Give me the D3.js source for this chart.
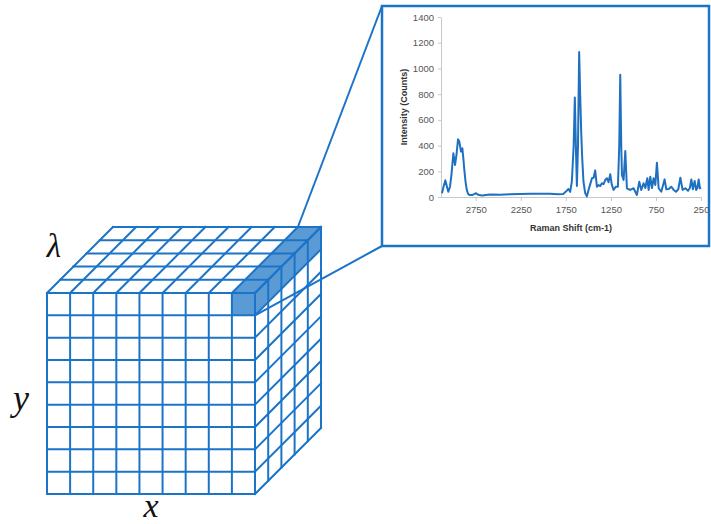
<!DOCTYPE html>
<html><head><meta charset="utf-8">
<script src="https://cdn.jsdelivr.net/npm/d3@7"></script>
<style>html,body{margin:0;padding:0;background:#fff}svg{display:block}</style>
</head><body>
<svg id="fig" width="711" height="524"></svg>
<script>
// Raman spectrum of the selected pixel (shift in cm-1, intensity in counts)
const ramanShift = [3124,3107,3087,3071,3054,3035,3018,2998,2979,2963,2946,2932,2913,2898,2887,2876,2863,2849,2835,2821,
  2791,2768,2746,2724,2680,2591,2479,2368,2257,2146,2035,1924,1835,1779,1752,1721,1702,1683,1663,1650,
  1637,1627,1615,1602,1591,1579,1568,1554,1535,1516,1498,1479,1460,1442,1424,1405,1387,1368,1350,1331,
  1313,1294,1276,1257,1239,1220,1196,1172,1157,1146,1135,1127,1109,1090,1072,1052,1035,998,979,961,
  935,913,887,868,846,831,813,794,776,757,739,720,691,654,635,609,579,553,527,502,
  479,454,424,394,374,357,340,320,304,290,276,262,250];
const intensity = [29,80,130,85,41,80,180,340,249,330,449,431,353,379,300,210,120,55,25,16,
  15,22,29,18,12,20,18,22,24,25,26,25,22,24,40,62,40,119,400,773,
  350,85,400,1127,800,500,301,119,30,5,55,100,146,150,207,80,93,85,107,100,
  132,146,115,177,93,55,80,80,400,950,400,171,132,358,68,60,55,68,41,16,
  119,55,107,70,146,55,158,70,146,93,267,68,41,137,60,62,80,55,41,60,
  150,55,68,48,70,137,60,124,55,70,137,68,75];
const intensityTicks = [0,200,400,600,800,1000,1200,1400];
const shiftTicks = [2750,2250,1750,1250,750,250];

// Hyperspectral cube: x columns, y rows, λ slices
const cubeCols = d3.range(9);
const cubeRows = d3.range(9);
const cubeSlices = d3.range(5);
const selectedPixel = {col: 8, row: 0};
const cubeLabels = {x: "x", y: "y", lambda: "λ"};

const blue = "#1c74c8";
const fillBlue = "#5b9bd5";
const svg = d3.select("#fig");

// ---------- cube ----------
const cx = d3.scaleLinear().domain([0, cubeCols.length]).range([47, 255]);
const cy = d3.scaleLinear().domain([0, cubeRows.length]).range([293, 494]);
const cd = d3.scaleLinear().domain([0, cubeSlices.length]).range([0, 66]);
const P = (c, r, k) => [cx(c) + cd(k), cy(r) - cd(k)];
const nC = cubeCols.length, nR = cubeRows.length, nK = cubeSlices.length;

const cube = svg.append("g");
const poly = pts => "M" + pts.map(p => p.join(",")).join("L") + "Z";
const s = selectedPixel;
// highlighted spectral column
cube.append("path").attr("d", poly([P(s.col,s.row,0),P(s.col+1,s.row,0),P(s.col+1,s.row+1,0),P(s.col,s.row+1,0)])).attr("fill", fillBlue);
cube.append("path").attr("d", poly([P(s.col,0,0),P(s.col+1,0,0),P(s.col+1,0,nK),P(s.col,0,nK)])).attr("fill", fillBlue);
cube.append("path").attr("d", poly([P(nC,s.row,0),P(nC,s.row+1,0),P(nC,s.row+1,nK),P(nC,s.row,nK)])).attr("fill", fillBlue);

const segs = [];
// front face
d3.range(nC + 1).forEach(c => segs.push([P(c,0,0), P(c,nR,0)]));
d3.range(nR + 1).forEach(r => segs.push([P(0,r,0), P(nC,r,0)]));
// top face
d3.range(nK + 1).forEach(k => segs.push([P(0,0,k), P(nC,0,k)]));
d3.range(nC + 1).forEach(c => segs.push([P(c,0,0), P(c,0,nK)]));
// right face
d3.range(nK + 1).forEach(k => segs.push([P(nC,0,k), P(nC,nR,k)]));
d3.range(nR + 1).forEach(r => segs.push([P(nC,r,0), P(nC,r,nK)]));

cube.selectAll("line.grid").data(segs).join("line")
  .attr("x1", d => d[0][0]).attr("y1", d => d[0][1])
  .attr("x2", d => d[1][0]).attr("y2", d => d[1][1])
  .attr("stroke", blue).attr("stroke-width", 2).attr("stroke-linecap", "square");

const serif = "'Liberation Serif','DejaVu Serif',serif";
svg.append("text").attr("x", 54).attr("y", 257).attr("text-anchor", "middle")
  .attr("font-family", serif).attr("font-style", "italic").attr("font-size", 33).attr("fill", "#111").text(cubeLabels.lambda);
svg.append("text").attr("x", 21).attr("y", 410).attr("text-anchor", "middle")
  .attr("font-family", serif).attr("font-style", "italic").attr("font-size", 36).attr("fill", "#111").text(cubeLabels.y);
svg.append("text").attr("x", 151).attr("y", 517).attr("text-anchor", "middle")
  .attr("font-family", serif).attr("font-style", "italic").attr("font-size", 34).attr("fill", "#111").text(cubeLabels.x);

// ---------- inset panel ----------
const box = {x: 382, y: 6, w: 327, h: 240};
const a1 = P(s.col, 0, nK), a2 = P(s.col + 1, s.row + 1, 0);
svg.append("line").attr("x1", box.x).attr("y1", box.y).attr("x2", a1[0]).attr("y2", a1[1])
  .attr("stroke", blue).attr("stroke-width", 2);
svg.append("line").attr("x1", box.x).attr("y1", box.y + box.h).attr("x2", a2[0]).attr("y2", a2[1])
  .attr("stroke", blue).attr("stroke-width", 2);
svg.append("rect").attr("x", box.x).attr("y", box.y).attr("width", box.w).attr("height", box.h)
  .attr("fill", "#fff").attr("stroke", blue).attr("stroke-width", 2.5);

const x = d3.scaleLinear().domain([3135, 250]).range([441, 701]);
const y = d3.scaleLinear().domain([0, 1400]).range([197, 17]);
const sans = "'Liberation Sans',Arial,sans-serif";

const yAxis = svg.append("g").attr("transform", "translate(441,0)")
  .call(d3.axisLeft(y).tickValues(intensityTicks).tickFormat(d3.format("d"))
    .tickSize(3).tickSizeOuter(0).tickPadding(4));
const xAxis = svg.append("g").attr("transform", "translate(0,197)")
  .call(d3.axisBottom(x).tickValues(shiftTicks).tickFormat(d3.format("d"))
    .tickSize(4).tickSizeOuter(0).tickPadding(5));
[xAxis, yAxis].forEach(g => {
  g.select(".domain").attr("stroke", "#c8c8c8").attr("stroke-width", 1);
  g.selectAll(".tick line").attr("stroke", "#c8c8c8");
  g.selectAll(".tick text").attr("fill", "#555").attr("font-family", sans).attr("font-size", 9.5);
});

svg.append("path")
  .datum(d3.zip(ramanShift, intensity))
  .attr("fill", "none").attr("stroke", "#1f70c1").attr("stroke-width", 2)
  .attr("stroke-linejoin", "round")
  .attr("d", d3.line().x(d => x(d[0])).y(d => y(d[1])));

svg.append("text").attr("x", 571).attr("y", 231).attr("text-anchor", "middle")
  .attr("font-family", sans).attr("font-weight", "bold").attr("font-size", 9).attr("fill", "#333")
  .text("Raman Shift (cm-1)");
svg.append("text").attr("transform", "translate(407,107) rotate(-90)").attr("text-anchor", "middle")
  .attr("font-family", sans).attr("font-weight", "bold").attr("font-size", 9).attr("fill", "#333")
  .text("Intensity (Counts)");
</script>
</body></html>
